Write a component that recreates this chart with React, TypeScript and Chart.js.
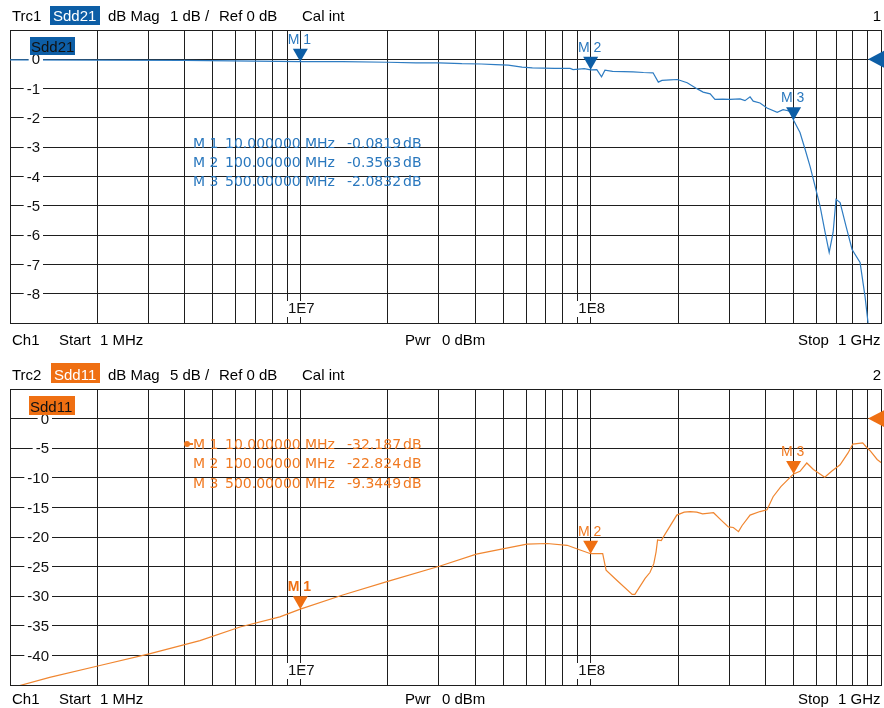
import React, { useEffect, useRef } from 'react';
import { Chart, registerables } from 'chart.js';

Chart.register(...registerables);

const FONT = '"Liberation Sans", Arial, Helvetica, sans-serif';
const FONT2 = '"DejaVu Sans", Verdana, sans-serif';
const GRID = '#1e1e1e';

// ---------- data ----------
const FREQ_GRID_MHZ = [1, 2, 3, 4, 5, 6, 7, 8, 9, 10, 20, 30, 40, 50, 60, 70, 80, 90, 100, 200, 300, 400, 500, 600, 700, 800, 900, 1000];
const X_LABEL_MHZ = [10, 100];
const X_LABEL_TEXT = ['1E7', '1E8'];

const SDD21_Y_GRID = [1, 0, -1, -2, -3, -4, -5, -6, -7, -8, -9];
const SDD21_Y_LABELS = [0, -1, -2, -3, -4, -5, -6, -7, -8];
const SDD11_Y_GRID = [5, 0, -5, -10, -15, -20, -25, -30, -35, -40, -45];
const SDD11_Y_LABELS = [0, -5, -10, -15, -20, -25, -30, -35, -40];

const MARKER_NAMES = ['M 1', 'M 2', 'M 3'];
const MARKER_MHZ = [10, 100, 500];
const MARKER_FREQ_TEXT = ['10.000000', '100.00000', '500.00000'];
const SDD21_MARKER_DB = [-0.0819, -0.3563, -2.0832];
const SDD21_MARKER_TEXT = ['-0.0819', '-0.3563', '-2.0832'];
const SDD11_MARKER_DB = [-32.187, -22.824, -9.3449];
const SDD11_MARKER_TEXT = ['-32.187', '-22.824', '-9.3449'];

const SDD21_FREQ = [
  1, 2, 4, 7, 10, 14, 20, 25, 30, 36, 42, 47, 52, 58, 63, 75, 85, 87, 95, 100,
  105, 109, 112, 119, 130, 140, 152, 164, 171, 176, 188, 199, 215, 233, 244, 258, 268, 285, 302, 327,
  340, 354, 363, 383, 405, 439, 460, 486, 500, 526, 548, 570, 593, 617, 642, 663, 684, 700, 723, 758,
  795, 847, 881, 902, 950, 1000,
];
const SDD21_DB = [
  -0.02, -0.03, -0.04, -0.06, -0.08, -0.08, -0.1, -0.12, -0.12, -0.15, -0.16, -0.18, -0.2, -0.27, -0.29, -0.31, -0.31, -0.35, -0.32, -0.36,
  -0.35, -0.6, -0.37, -0.41, -0.42, -0.43, -0.45, -0.46, -0.78, -0.72, -0.7, -0.69, -0.8, -1.01, -1.12, -1.18, -1.37, -1.36, -1.37, -1.35,
  -1.41, -1.28, -1.43, -1.49, -1.66, -1.81, -1.72, -1.77, -2.08, -2.5, -3.08, -3.66, -4.34, -5.02, -5.91, -6.59, -5.91, -4.78, -4.89, -5.7,
  -6.49, -6.93, -8.09, -8.98, -10.5, -12,
];

const SDD11_FREQ = [
  1, 1.08, 1.37, 2.04, 3.04, 4.51, 6.2, 8.5, 10, 14, 20, 30.3, 40.4, 48.8, 60.3, 70.7, 83, 92, 100, 110,
  113, 123, 139, 142, 154, 160, 165, 168, 170, 175, 180, 198, 210, 220, 232, 243, 265, 282, 298, 310,
  323, 332, 354, 383, 405, 425, 452, 500, 526, 555, 585, 640, 676, 723, 770, 800, 865, 890, 920, 970,
  1000,
];
const SDD11_DB = [
  -45.6, -45.1, -43.7, -41.7, -39.7, -37.5, -35.2, -33.5, -32.19, -29.8, -27.5, -24.9, -22.9, -22.1, -21.2, -21.1, -21.4, -22.2, -22.82, -22.8,
  -25.6, -27.3, -29.7, -29.7, -27.0, -26.0, -24.5, -22.5, -20.5, -20.6, -19.6, -16.3, -15.8, -15.7, -15.8, -16.1, -15.9, -17.2, -18.3, -18.4,
  -19.1, -18.1, -16.3, -15.7, -15.4, -13.2, -11.5, -9.34, -8.9, -7.5, -8.6, -9.9, -8.9, -7.8, -5.8, -4.3, -4.1, -4.8, -5.5, -6.9,
  -7.4,
];

// ---------- panel layout / style ----------
type PanelCfg = {
  top: number;
  height: number;
  pad: { left: number; right: number; top: number; bottom: number };
  trc: string;
  param: string;
  scaleText: string;
  chNum: string;
  yMin: number;
  yMax: number;
  yGrid: number[];
  yLabels: number[];
  yLabelRight: number;
  freq: number[];
  db: number[];
  mDb: number[];
  mText: string[];
  trace: string;
  dark: string;
  text: string;
  headerBase: number;
  box: [number, number, number, number];
  inBox: [number, number, number, number];
  infoBase: number[];
  footerBase: number;
  activeBold: boolean;
  activeDot: boolean;
};

const PANELS: PanelCfg[] = [
  {
    top: 0,
    height: 354,
    pad: { left: 10, right: 3, top: 30, bottom: 31 },
    trc: 'Trc1',
    param: 'Sdd21',
    scaleText: '1 dB /',
    chNum: '1',
    yMin: -9,
    yMax: 1,
    yGrid: SDD21_Y_GRID,
    yLabels: SDD21_Y_LABELS,
    yLabelRight: 40,
    freq: SDD21_FREQ,
    db: SDD21_DB,
    mDb: SDD21_MARKER_DB,
    mText: SDD21_MARKER_TEXT,
    trace: '#2e7cc2',
    dark: '#0d5ea6',
    text: '#2a78be',
    headerBase: 21,
    box: [50, 6, 50, 19],
    inBox: [30, 37, 45, 18],
    infoBase: [148, 167, 186],
    footerBase: 345,
    activeBold: false,
    activeDot: false,
  },
  {
    top: 354,
    height: 354,
    pad: { left: 10, right: 3, top: 35, bottom: 23 },
    trc: 'Trc2',
    param: 'Sdd11',
    scaleText: '5 dB /',
    chNum: '2',
    yMin: -45,
    yMax: 5,
    yGrid: SDD11_Y_GRID,
    yLabels: SDD11_Y_LABELS,
    yLabelRight: 49,
    freq: SDD11_FREQ,
    db: SDD11_DB,
    mDb: SDD11_MARKER_DB,
    mText: SDD11_MARKER_TEXT,
    trace: '#f08630',
    dark: '#ef6f12',
    text: '#f07a22',
    headerBase: 26,
    box: [51, 9, 49, 20],
    inBox: [29, 42, 46, 19],
    infoBase: [95, 114, 134],
    footerBase: 350,
    activeBold: true,
    activeDot: true,
  },
];

function makeOverlay(cfg: PanelCfg) {
  return {
    id: 'overlay',
    afterDraw(chart: any) {
      const ctx: CanvasRenderingContext2D = chart.ctx;
      const xs = chart.scales.x;
      const ys = chart.scales.y;
      const a = chart.chartArea;
      ctx.save();

      // y tick labels inside plot with white backdrop
      ctx.font = `15px ${FONT}`;
      ctx.textBaseline = 'middle';
      ctx.textAlign = 'right';
      cfg.yLabels.forEach((v) => {
        const y = ys.getPixelForValue(v);
        const t = String(v);
        const w = ctx.measureText(t).width;
        ctx.fillStyle = '#fff';
        ctx.fillRect(cfg.yLabelRight - w - 3, y - 5, w + 6, 10);
        ctx.fillStyle = '#111';
        ctx.fillText(t, cfg.yLabelRight, y + 1);
      });

      // x labels
      ctx.textAlign = 'center';
      ctx.textBaseline = 'alphabetic';
      X_LABEL_MHZ.forEach((f, i) => {
        const x = xs.getPixelForValue(f);
        const t = X_LABEL_TEXT[i];
        const w = ctx.measureText(t).width;
        ctx.fillStyle = '#fff';
        ctx.fillRect(x - w / 2 - 2, a.bottom - 22, w + 4, 16);
        ctx.fillStyle = '#111';
        ctx.fillText(t, x + 1, a.bottom - 10);
      });

      // in-plot trace label
      ctx.fillStyle = cfg.dark;
      ctx.fillRect(cfg.inBox[0], cfg.inBox[1], cfg.inBox[2], cfg.inBox[3]);
      ctx.fillStyle = '#111';
      ctx.textAlign = 'left';
      ctx.fillText(cfg.param, cfg.inBox[0] + 1, cfg.inBox[1] + cfg.inBox[3] - 3);

      // markers
      MARKER_MHZ.forEach((f, i) => {
        const x = xs.getPixelForValue(f);
        const y = ys.getPixelForValue(cfg.mDb[i]);
        ctx.fillStyle = cfg.dark;
        ctx.beginPath();
        ctx.moveTo(x - 7.5, y - 13);
        ctx.lineTo(x + 7.5, y - 13);
        ctx.lineTo(x, y);
        ctx.closePath();
        ctx.fill();
        ctx.font = `${cfg.activeBold && i === 0 ? 'bold ' : ''}14px ${FONT}`;
        ctx.fillStyle = cfg.activeBold && i === 0 ? cfg.dark : cfg.text;
        ctx.textAlign = 'center';
        ctx.fillText(MARKER_NAMES[i], x - 1, y - 18);
      });

      // marker info table
      ctx.font = `14px ${FONT2}`;
      ctx.textAlign = 'left';
      ctx.fillStyle = cfg.text;
      const cols = [193, 225, 305, 347, 403];
      MARKER_NAMES.forEach((n, i) => {
        const b = cfg.infoBase[i];
        ctx.fillText(n, cols[0], b);
        ctx.fillText(MARKER_FREQ_TEXT[i], cols[1], b);
        ctx.fillText('MHz', cols[2], b);
        ctx.fillText(cfg.mText[i], cols[3], b);
        ctx.fillText('dB', cols[4], b);
      });
      if (cfg.activeDot) {
        const b = cfg.infoBase[0] - 5;
        ctx.beginPath();
        ctx.arc(187, b, 3, 0, Math.PI * 2);
        ctx.fill();
        ctx.fillRect(187, b - 1, 6, 2);
      }

      // reference position arrow
      const y0 = ys.getPixelForValue(0);
      ctx.fillStyle = cfg.dark;
      ctx.beginPath();
      ctx.moveTo(a.right - 13, y0);
      ctx.lineTo(a.right + 4, y0 - 9);
      ctx.lineTo(a.right + 4, y0 + 9);
      ctx.closePath();
      ctx.fill();

      // header
      const hb = cfg.headerBase;
      ctx.font = `15px ${FONT}`;
      ctx.fillStyle = '#000';
      ctx.textAlign = 'left';
      ctx.fillText(cfg.trc, 12, hb);
      ctx.fillStyle = cfg.dark;
      ctx.fillRect(cfg.box[0], cfg.box[1], cfg.box[2], cfg.box[3]);
      ctx.fillStyle = '#fff';
      ctx.fillText(cfg.param, cfg.box[0] + 3, hb);
      ctx.fillStyle = '#000';
      ctx.fillText('dB Mag', 108, hb);
      ctx.fillText(cfg.scaleText, 170, hb);
      ctx.fillText('Ref 0 dB', 219, hb);
      ctx.fillText('Cal int', 302, hb);
      ctx.textAlign = 'right';
      ctx.fillText(cfg.chNum, 881, hb);

      // footer
      const fb = cfg.footerBase;
      ctx.textAlign = 'left';
      ctx.fillText('Ch1', 12, fb);
      ctx.fillText('Start', 59, fb);
      ctx.fillText('1 MHz', 100, fb);
      ctx.fillText('Pwr', 405, fb);
      ctx.fillText('0 dBm', 442, fb);
      ctx.fillText('Stop', 798, fb);
      ctx.fillText('1 GHz', 838, fb);

      ctx.restore();
    },
  };
}

function Panel({ cfg }: { cfg: PanelCfg }) {
  const ref = useRef<HTMLCanvasElement>(null);
  useEffect(() => {
    const chart = new Chart(ref.current as HTMLCanvasElement, {
      type: 'line',
      data: {
        datasets: [
          {
            data: cfg.freq.map((f, i) => ({ x: f, y: cfg.db[i] })),
            borderColor: cfg.trace,
            borderWidth: 1.2,
            pointRadius: 0,
            tension: 0,
            fill: false,
          },
        ],
      },
      options: {
        responsive: false,
        animation: false,
        events: [],
        layout: { padding: cfg.pad },
        plugins: { legend: { display: false }, tooltip: { enabled: false } },
        scales: {
          x: {
            type: 'logarithmic',
            min: 1,
            max: 1000,
            afterBuildTicks: (s: any) => {
              s.ticks = FREQ_GRID_MHZ.map((v) => ({ value: v }));
            },
            ticks: { display: false },
            grid: { color: GRID, lineWidth: 1, drawTicks: false },
            border: { display: true, color: GRID, width: 1 },
          },
          y: {
            type: 'linear',
            min: cfg.yMin,
            max: cfg.yMax,
            afterBuildTicks: (s: any) => {
              s.ticks = cfg.yGrid.map((v) => ({ value: v }));
            },
            ticks: { display: false },
            grid: { color: GRID, lineWidth: 1, drawTicks: false },
            border: { display: true, color: GRID, width: 1 },
          },
        },
      } as any,
      plugins: [makeOverlay(cfg)],
    });
    return () => chart.destroy();
  }, [cfg]);
  return (
    <canvas
      ref={ref}
      width={884}
      height={cfg.height}
      style={{ position: 'absolute', left: 0, top: cfg.top, width: 884, height: cfg.height }}
    />
  );
}

export default function App() {
  return (
    <div style={{ position: 'fixed', left: 0, top: 0, width: 884, height: 708, background: '#fff' }}>
      {PANELS.map((p) => (
        <Panel key={p.trc} cfg={p} />
      ))}
    </div>
  );
}
